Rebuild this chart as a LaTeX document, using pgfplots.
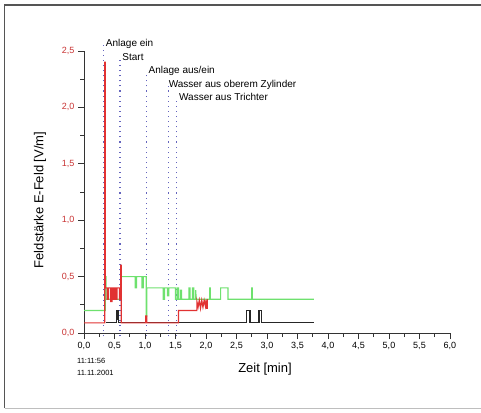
\documentclass[border=0pt]{standalone}
\usepackage{fontspec}
\setmainfont{Liberation Sans}
\usepackage{pgfplots}
\pgfplotsset{compat=1.18}
\definecolor{tickred}{RGB}{200,50,50}
\definecolor{datared}{RGB}{225,50,50}
\definecolor{datagreen}{RGB}{110,225,110}
\definecolor{dotblue}{RGB}{100,100,190}
\definecolor{framedark}{RGB}{85,85,85}
\definecolor{framelight}{RGB}{190,190,190}
\begin{document}
\begin{tikzpicture}[x=1pt,y=1pt]
\path[use as bounding box] (0,0) rectangle (481,-412);
\draw[framedark, line width=1.5pt] (4.5,-408) -- (4.5,-5) -- (481,-5);
\draw[framelight, line width=1pt] (4.5,-408.5) -- (481,-408.5);
\begin{axis}[
  at={(84pt,-333pt)}, anchor=south west,
  scale only axis, width=366pt, height=282pt,
  xmin=0, xmax=6, ymin=0, ymax=2.5,
  axis x line=bottom, axis y line=left,
  axis line style={-, line width=0.8pt, black!80},
  xtick={0,0.5,...,6}, ytick={0,0.5,...,2.5},
  minor x tick num=1, minor y tick num=1,
  tick align=outside,
  major tick length=6pt, minor tick length=4pt,
  tick style={line width=0.8pt, black!80},
  /pgf/number format/.cd, fixed, fixed zerofill, precision=1, use comma, assume math mode=true,
  /pgfplots/.cd,
  ticklabel style={font=\fontsize{9}{10}\selectfont},
  yticklabel style={text=tickred},
  clip=false,
]
% dotted event lines
\addplot[dotblue, line width=1.1pt, dash pattern=on 1.1pt off 4pt] coordinates {(0.32,-0.03) (0.32,2.55)};
\addplot[dotblue, line width=1.1pt, dash pattern=on 1.1pt off 4pt] coordinates {(0.59,-0.03) (0.59,2.44)};
\addplot[dotblue, line width=1.1pt, dash pattern=on 1.1pt off 4pt] coordinates {(1.03,-0.03) (1.03,2.31)};
\addplot[dotblue, line width=1.1pt, dash pattern=on 1.1pt off 4pt] coordinates {(1.38,-0.03) (1.38,2.19)};
\addplot[dotblue, line width=1.1pt, dash pattern=on 1.1pt off 4pt] coordinates {(1.52,-0.03) (1.52,2.08)};
% green
\addplot[datagreen, line width=1.2pt] coordinates {
(0,0.2) (0.35,0.2) (0.35,0.5) (0.36,0.5) (0.36,0.3) (0.61,0.3) (0.61,0.5)
(0.84,0.5) (0.84,0.4) (0.86,0.4) (0.86,0.5) (0.95,0.5) (0.95,0.4) (0.97,0.4) (0.97,0.5)
(1.02,0.5) (1.02,0.15) (1.03,0.15) (1.03,0.4)
(1.30,0.4) (1.30,0.3) (1.32,0.3) (1.32,0.4) (1.37,0.4) (1.37,0.33) (1.39,0.33) (1.39,0.4)
(1.50,0.4) (1.50,0.3) (1.53,0.3) (1.53,0.4) (1.55,0.4) (1.55,0.3) (1.58,0.3) (1.58,0.38) (1.60,0.38) (1.60,0.3)
(1.72,0.3) (1.72,0.4) (1.74,0.4) (1.74,0.3) (1.78,0.3) (1.78,0.4) (1.80,0.4) (1.80,0.3) (1.83,0.3) (1.83,0.38) (1.84,0.3)
(2.06,0.3) (2.06,0.4) (2.07,0.4) (2.07,0.3)
(2.24,0.3) (2.24,0.4) (2.36,0.4) (2.36,0.3)
(2.75,0.3) (2.75,0.4) (2.76,0.4) (2.76,0.3) (3.77,0.3)};
% black
\addplot[black!85, line width=1.2pt] coordinates {
(0.36,0.09) (0.53,0.09) (0.53,0.2) (0.55,0.2) (0.55,0.12) (0.56,0.12) (0.56,0.2) (0.57,0.2) (0.57,0.09)
(2.66,0.09) (2.66,0.2) (2.72,0.2) (2.72,0.09) (2.87,0.09) (2.87,0.2) (2.91,0.2) (2.91,0.09) (3.77,0.09)};
% red
\addplot[datared, line width=1.2pt] coordinates {
(0,0.09) (0.34,0.09) (0.34,2.4) (0.35,2.4) (0.35,0.4)
(0.38,0.4) (0.38,0.3) (0.40,0.3) (0.40,0.4) (0.44,0.4) (0.44,0.28) (0.46,0.28) (0.46,0.4)
(0.48,0.4) (0.48,0.3) (0.50,0.3) (0.50,0.4) (0.52,0.4) (0.52,0.3) (0.54,0.3) (0.54,0.4)
(0.58,0.4) (0.58,0.3) (0.60,0.3) (0.60,0.6) (0.61,0.6) (0.61,0.09)
(1.01,0.09) (1.01,0.15) (1.03,0.15) (1.03,0.09) (1.55,0.09) (1.55,0.2)
(1.85,0.2) (1.85,0.28) (1.87,0.23) (1.89,0.29) (1.91,0.22) (1.93,0.29) (1.95,0.23) (1.97,0.29) (1.99,0.24) (2.00,0.29) (2.00,0.22) (2.02,0.22) (2.02,0.3)};
% annotations
\node[anchor=west, font=\fontsize{10}{12}\selectfont, inner sep=1pt] at (axis cs:0.34,2.56) {Anlage ein};
\node[anchor=west, font=\fontsize{10}{12}\selectfont, inner sep=1pt] at (axis cs:0.61,2.45) {Start};
\node[anchor=west, font=\fontsize{10}{12}\selectfont, inner sep=1pt] at (axis cs:1.04,2.32) {Anlage aus/ein};
\node[anchor=west, font=\fontsize{10}{12}\selectfont, inner sep=1pt] at (axis cs:1.37,2.20) {Wasser aus oberem Zylinder};
\node[anchor=west, font=\fontsize{10}{12}\selectfont, inner sep=1pt] at (axis cs:1.54,2.09) {Wasser aus Trichter};
\end{axis}
\node[font=\fontsize{13}{15}\selectfont] at (265,-369) {Zeit [min]};
\node[font=\fontsize{13}{15}\selectfont, rotate=90] at (40,-200) {Feldstärke E-Feld [V/m]};
\node[anchor=west, font=\fontsize{7.5}{9}\selectfont, inner sep=0pt] at (77,-361) {11:11:56};
\node[anchor=west, font=\fontsize{7.5}{9}\selectfont, inner sep=0pt] at (77,-373) {11.11.2001};
\end{tikzpicture}
\end{document}
